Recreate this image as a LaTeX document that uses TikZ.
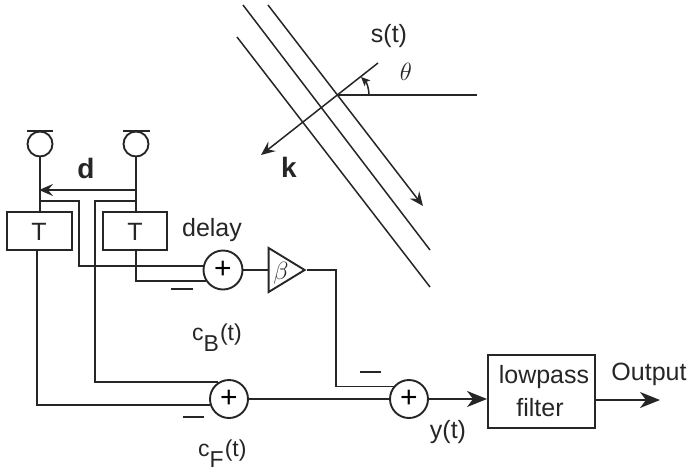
\documentclass[tikz,border=0pt]{standalone}
\usepackage{fontspec}
\setmainfont{Liberation Sans}
\usetikzlibrary{arrows.meta,shapes.geometric}
\definecolor{ink}{HTML}{262626}
\tikzset{
  wire/.style={draw=ink,line width=1.9pt},
  thin wire/.style={draw=ink,line width=1.5pt},
  sumnode/.style={circle,draw=ink,line width=1.9pt,minimum size=38pt,inner sep=0pt,font=\fontsize{30}{30}\selectfont},
  delaybox/.style={rectangle,draw=ink,line width=1.9pt,minimum width=64pt,minimum height=38pt,inner sep=0pt},
  mic/.style={circle,draw=ink,line width=1.9pt,minimum size=25pt,inner sep=0pt},
  lbl/.style={inner sep=0pt,text=ink,font=\fontsize{25}{28}\selectfont},
  bigtip/.style={-{Stealth[length=20pt,width=16pt,inset=6pt]}},
  smalltip/.style={-{Stealth[length=14pt,width=12pt,inset=5pt]}},
}
\begin{document}
\begin{tikzpicture}[x=1pt,y=-1pt]
\useasboundingbox (0,0) rectangle (688,472);
% wavefronts
\coordinate (w1a) at (268,5);   \coordinate (w1b) at (423,206);
\coordinate (w2a) at (243,5);   \coordinate (w2b) at (430,250);
\coordinate (w3a) at (237,37);  \coordinate (w3b) at (430,287);
\draw[thin wire,smalltip] (w1a) -- (w1b);
\draw[thin wire] (w2a) -- (w2b);
\draw[thin wire] (w3a) -- (w3b);
\coordinate (ka) at (378,63);   \coordinate (kb) at (261,155);
\draw[thin wire,smalltip] (ka) -- (kb);
\coordinate (ha) at (338,95);   \coordinate (hb) at (477,95);
\draw[thin wire] (ha) -- (hb);
\coordinate (tha) at (369,95);  \coordinate (thb) at (361,77);
\draw[thin wire,-{Stealth[length=9pt,width=8pt,inset=2pt]}] (tha) to[bend right=22] (thb);
\node[lbl] (st) at (389,36) {s(t)};
\node[lbl,font=\fontsize{25}{26}\selectfont] (th) at (406,72) {$\theta$};
\node[lbl,font=\fontsize{28}{28}\selectfont\bfseries] (kk) at (289,167) {k};
\node[lbl,font=\fontsize{28}{28}\selectfont\bfseries] (dd) at (86,168) {d};
% mics
\node[mic] (m1) at (40,144) {};
\node[mic] (m2) at (136,144) {};
\coordinate (b1a) at (27,131); \coordinate (b1b) at (53,131);
\coordinate (b2a) at (123,131); \coordinate (b2b) at (150,131);
\draw[wire] (b1a) -- (b1b);
\draw[wire] (b2a) -- (b2b);
% delay boxes
\node[delaybox,minimum width=65pt] (t1) at (39.5,231) {};
\node[lbl] (t1t) at (39,232) {T};
\node[delaybox] (t2) at (135,231) {};
\node[lbl] (t2t) at (135,232) {T};
\node[lbl] (delay) at (212,230) {delay};
% sums
\node[sumnode,minimum size=39pt] (s1) at (223,270) {+};
\node[sumnode] (s2) at (229,399) {+};
\node[sumnode] (s3) at (409,399) {+};
\node[isosceles triangle,isosceles triangle apex angle=60,draw=ink,line width=1.9pt,minimum height=36pt,minimum width=44pt,inner sep=0pt,isosceles triangle stretches] (tri) at (281,270) {};
\node[lbl,font=\fontsize{27}{28}\selectfont] (beta) at (281,273) {$\beta$};
\node[rectangle,draw=ink,line width=1.9pt,minimum width=107pt,minimum height=73pt,inner sep=0pt] (lp) at (541.5,391.5) {};
\node[lbl] (lpa) at (544,377) {lowpass};
\node[lbl] (lpb) at (540,408) {filter};
\node[lbl] (out) at (649,374) {Output};
\node[lbl] (yt) at (448,432) {y(t)};
\node[lbl,anchor=base west,font=\fontsize{23}{25}\selectfont] (cb) at (192,340) {c\raisebox{-11pt}{B}\kern1pt(t)};
\node[lbl,anchor=base west,font=\fontsize{23}{25}\selectfont] (cf) at (198,456) {c\raisebox{-11pt}{F}\kern1pt(t)};
% microphone stems & junctions
\coordinate (ja) at (39,190); \coordinate (jb) at (136,190);
\coordinate (jc) at (39,201); \coordinate (jd) at (136,201);
\coordinate (ke) at (79,201); \coordinate (kf) at (95,201);
\draw[wire] (m1.south) -- (m1.south |- t1.north);
\draw[wire] (m2.south) -- (m2.south |- t2.north);
\draw[wire,smalltip] (jb) -- (ja);
\draw[wire] (jc) -- (ke) |- (s1.168);
\draw[wire] (jd) -- (kf) |- (s2.123);
\coordinate (t2o) at (136,250); \coordinate (t1o) at (37,250);
\draw[wire] (t2o) |- (s1.214);
\draw[wire] (t1o) |- (s2.198);
\draw[wire] (s1.east) -- (s1.east -| tri.west);
\coordinate (bo) at (336,270);
\draw[wire] (tri.east) -- (bo) |- (s3.141);
\draw[wire] (s2.east) -- (s3.west);
\draw[wire,bigtip] (s3.east) -- (lp.west |- s3.east);
\coordinate (oe) at (660,400);
\draw[wire,bigtip] (lp.east |- oe) -- (oe);
% minus marks
\coordinate (n1a) at (171,289); \coordinate (n1b) at (193,289);
\coordinate (n2a) at (183,417); \coordinate (n2b) at (204,417);
\coordinate (n3a) at (360,372); \coordinate (n3b) at (381,372);
\draw[wire] (n1a) -- (n1b);
\draw[wire] (n2a) -- (n2b);
\draw[wire] (n3a) -- (n3b);
\end{tikzpicture}
\end{document}
